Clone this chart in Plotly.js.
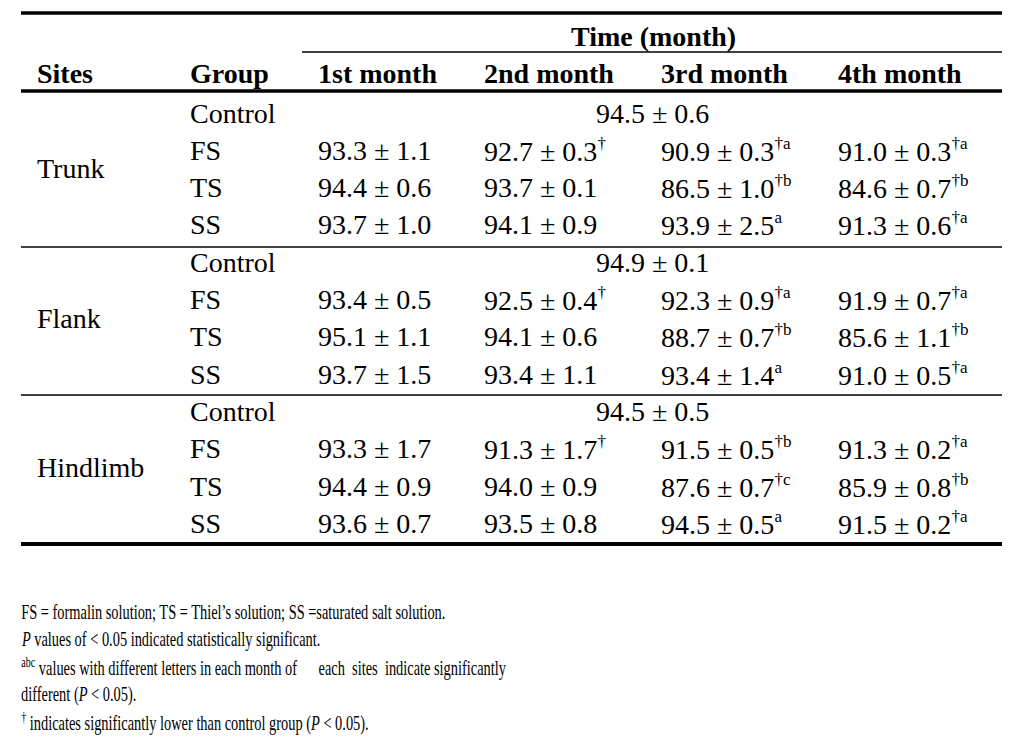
<!DOCTYPE html>
<html>
<head>
<meta charset="utf-8">
<script src="https://cdn.plot.ly/plotly-3.0.1.min.js"></script>
<style>html,body{margin:0;padding:0;background:#fff;}</style>
</head>
<body>
<div id="chart" style="width:1029px;height:736px;"></div>
<script>
// ---- data ----
var sites = ['Trunk', 'Flank', 'Hindlimb'];
var groups = ['Control', 'FS', 'TS', 'SS'];
var months = ['1st month', '2nd month', '3rd month', '4th month'];
var headerSites = 'Sites';
var headerGroup = 'Group';
var headerTime = 'Time (month)';

var controlMean = [94.5, 94.9, 94.5];
var controlSd = [0.6, 0.1, 0.5];

// rows: Trunk FS, TS, SS, Flank FS, TS, SS, Hindlimb FS, TS, SS
var mean1 = [93.3, 94.4, 93.7, 93.4, 95.1, 93.7, 93.3, 94.4, 93.6];
var sd1   = [1.1, 0.6, 1.0, 0.5, 1.1, 1.5, 1.7, 0.9, 0.7];
var sig1  = ['', '', '', '', '', '', '', '', ''];
var mean2 = [92.7, 93.7, 94.1, 92.5, 94.1, 93.4, 91.3, 94.0, 93.5];
var sd2   = [0.3, 0.1, 0.9, 0.4, 0.6, 1.1, 1.7, 0.9, 0.8];
var sig2  = ['†', '', '', '†', '', '', '†', '', ''];
var mean3 = [90.9, 86.5, 93.9, 92.3, 88.7, 93.4, 91.5, 87.6, 94.5];
var sd3   = [0.3, 1.0, 2.5, 0.9, 0.7, 1.4, 0.5, 0.7, 0.5];
var sig3  = ['†a', '†b', 'a', '†a', '†b', 'a', '†b', '†c', 'a'];
var mean4 = [91.0, 84.6, 91.3, 91.9, 85.6, 91.0, 91.3, 85.9, 91.5];
var sd4   = [0.3, 0.7, 0.6, 0.7, 1.1, 0.5, 0.2, 0.8, 0.2];
var sig4  = ['†a', '†b', '†a', '†a', '†b', '†a', '†a', '†b', '†a'];

var footnotes = [
  'FS = formalin solution; TS = Thiel\u2019s solution; SS =saturated salt solution.',
  '<i>P</i> values of &lt; 0.05 indicated statistically significant.',
  '<sup>abc</sup> values with different letters in each month of \u00a0\u00a0\u00a0\u00a0\u00a0each \u00a0sites \u00a0indicate significantly',
  'different (<i>P</i> &lt; 0.05).',
  '<sup>\u2020</sup> indicates significantly lower than control group (<i>P</i> &lt; 0.05).'
];

// ---- layout constants ----
var W = 1029, H = 736;
var FONT = 'Liberation Serif';
var bodySize = 28;
var supSize = 17;
var footSize = 20;
var footSqueeze = 0.72;
var colX = [316, 482, 659, 836];
var siteX = 35, groupX = 188;
var row0 = 113, rowStep = 37.3;
var controlCenterX = 652;
var headerY = 73, timeY = 36;
var ruleL = 21, ruleR = 1002;
var footY0 = 612, footStep = 27.5;

var ann = [];
function txt(x, y, t, opts) {
  opts = opts || {};
  ann.push({
    x: x, y: y, xref: 'x', yref: 'y', text: t, showarrow: false,
    xanchor: opts.xanchor || 'left', yanchor: 'middle',
    font: {family: FONT, size: opts.size || bodySize, color: '#000'}
  });
}

// headers
txt(653, timeY, '<b>' + headerTime + '</b>', {xanchor: 'center'});
txt(siteX, headerY, '<b>' + headerSites + '</b>');
txt(groupX, headerY, '<b>' + headerGroup + '</b>');
months.forEach(function (m, j) { txt(colX[j], headerY, '<b>' + m + '</b>'); });

var means = [mean1, mean2, mean3, mean4];
var sds = [sd1, sd2, sd3, sd4];
var sigs = [sig1, sig2, sig3, sig4];

sites.forEach(function (s, b) {
  var base = b * groups.length;
  var yMid = row0 + (base + 1.5) * rowStep;
  txt(siteX, yMid, s);
  groups.forEach(function (g, k) {
    txt(groupX, row0 + (base + k) * rowStep, g);
  });
  txt(controlCenterX, row0 + base * rowStep,
      controlMean[b].toFixed(1) + ' \u00b1 ' + controlSd[b].toFixed(1), {xanchor: 'center'});
  for (var k = 0; k < 3; k++) {
    var idx = b * 3 + k;
    var y = row0 + (base + 1 + k) * rowStep;
    for (var j = 0; j < 4; j++) {
      var t = means[j][idx].toFixed(1) + ' \u00b1 ' + sds[j][idx].toFixed(1);
      if (sigs[j][idx]) t += '<sup><span style="font-size:' + supSize + 'px">' + sigs[j][idx] + '</span></sup>';
      txt(colX[j], y, t);
    }
  }
});

var footStart = ann.length;
footnotes.forEach(function (f, i) {
  txt(ruleL - 2, footY0 + i * footStep, f, {size: footSize});
});

// rules
var shapes = [];
function rule(x0, x1, y, w) {
  shapes.push({type: 'line', xref: 'x', yref: 'y', x0: x0, x1: x1, y0: y, y1: y,
               line: {color: '#000', width: w}});
}
rule(ruleL, ruleR, 13, 3.5);
rule(302, ruleR, 52, 1.5);
rule(ruleL, ruleR, 91, 3.5);
var blockEnd = [247, 395];
blockEnd.forEach(function (y) { rule(ruleL, ruleR, y, 1.5); });
rule(ruleL, ruleR, 544, 4);

var data = [{x: [], y: [], type: 'scatter', mode: 'markers', hoverinfo: 'skip', showlegend: false}];
var layout = {
  width: W, height: H,
  margin: {l: 0, r: 0, t: 0, b: 0},
  paper_bgcolor: '#fff', plot_bgcolor: '#fff',
  xaxis: {range: [0, W], visible: false, fixedrange: true},
  yaxis: {range: [H, 0], visible: false, fixedrange: true},
  annotations: ann, shapes: shapes, showlegend: false
};
Plotly.newPlot('chart', data, layout, {staticPlot: true, displayModeBar: false}).then(function (gd) {
  // the footnote type is horizontally condensed in the reference
  var x0 = ruleL;
  gd.querySelectorAll('g.annotation').forEach(function (g) {
    var i = +g.getAttribute('data-index');
    if (i >= footStart) {
      g.setAttribute('transform', 'translate(' + x0 + ',0) scale(' + footSqueeze + ',1) translate(' + (-x0) + ',0)');
    }
  });
});
</script>
</body>
</html>
